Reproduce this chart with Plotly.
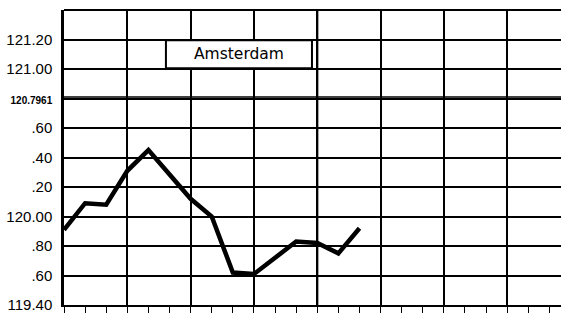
import plotly.graph_objects as go

# Data (monthly index, rate)
months = list(range(15))
rates = [119.91, 120.09, 120.08, 120.31, 120.45, 120.28, 120.12, 120.00,
         119.62, 119.61, 119.72, 119.83, 119.82, 119.75, 119.92]

parity = 120.7961
ytick_vals = [119.40, 119.60, 119.80, 120.00, 120.20, 120.40, 120.60, parity, 121.00, 121.20]
ytick_text = ["119.40", ".60", ".80", "120.00", ".20", ".40", ".60",
              "<span style='font-size:10px;font-weight:bold'>120.7961</span>",
              "121.00", "121.20"]
title_text = "Amsterdam"

fig = go.Figure()
fig.add_trace(go.Scatter(x=months, y=rates, mode="lines",
                         line=dict(color="black", width=4.5), showlegend=False,
                         hoverinfo="skip"))

fig.update_layout(
    width=561, height=315,
    margin=dict(l=64, r=0, t=10, b=10, autoexpand=False),
    paper_bgcolor="white", plot_bgcolor="white",
    font=dict(family="Liberation Sans, Arial, sans-serif", size=15, color="black"),
    xaxis=dict(range=[0, 23.55], tick0=0, dtick=3, showgrid=True, automargin=False,
               gridcolor="black", gridwidth=1.5, showticklabels=False,
               ticks="outside", ticklen=6, tickwidth=1, tickcolor="black",
               showline=True, linecolor="black", linewidth=2, zeroline=False,
               minor=dict(dtick=1, tick0=0, ticks="outside", ticklen=6,
                          tickwidth=1, tickcolor="black", showgrid=False)),
    yaxis=dict(range=[119.40, 121.40], tickmode="array", tickvals=ytick_vals,
               ticktext=ytick_text, showgrid=True, gridcolor="black", automargin=False,
               gridwidth=1.5, ticks="", showline=True, linecolor="black",
               linewidth=2.5, zeroline=False, ticklabelstandoff=6),
)

# top border, thicker year line, double parity line
fig.add_shape(type="line", xref="paper", yref="paper", x0=0, x1=1, y0=1, y1=1,
              line=dict(color="black", width=2))
fig.add_shape(type="line", xref="x", yref="paper", x0=12, x1=12, y0=0, y1=1,
              line=dict(color="black", width=2.2))
fig.add_shape(type="line", xref="paper", yref="y", x0=0, x1=1,
              y0=parity + 0.014, y1=parity + 0.014,
              line=dict(color="black", width=1.5))

# title box
fig.add_shape(type="rect", xref="x", yref="y", x0=4.83, x1=11.75,
              y0=121.005, y1=121.195, fillcolor="white",
              line=dict(color="black", width=2), layer="above")
fig.add_annotation(x=(4.83 + 11.75) / 2, y=121.10, xref="x", yref="y",
                   text=title_text, showarrow=False,
                   font=dict(family="DejaVu Sans", size=15.5, color="black"))

fig.write_html("out.html", config={"displayModeBar": False},
               post_script="document.body.style.margin='0';document.body.style.overflow='hidden';")
